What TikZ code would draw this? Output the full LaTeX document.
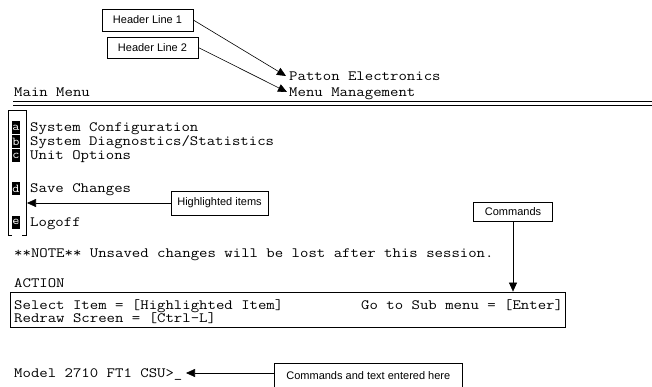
\documentclass[tikz,border=0pt]{standalone}
\usepackage{fontspec}
\setmainfont{Liberation Sans}
\newfontfamily\termfont{Latin Modern Mono}[FakeStretch=1.15]
\usetikzlibrary{arrows.meta}
\begin{document}
\begin{tikzpicture}[x=1pt,y=-1pt,
  term/.style={font=\termfont\fontsize{14.2}{14}\selectfont, inner sep=0pt, anchor=base west,
               text height=7pt, text depth=2pt},
  callout/.style={draw, line width=0.6pt, font=\fontsize{11}{11}\selectfont, inner sep=0pt, align=center},
  keyletter/.style={fill=black, text=white, font=\termfont\fontsize{12}{12}\selectfont, inner sep=0pt,
                    minimum width=8pt, minimum height=13pt},
  pointer/.style={line width=0.6pt, -{Triangle[length=9pt,width=8pt]}}]
\useasboundingbox (0,0) rectangle (652,387);

% header lines
\node[term] (hdr1) at (289,81) {Patton Electronics};
\node[term] (hdr2) at (289,97) {Menu Management};
\node[term] (main) at (14,97) {Main Menu};
\draw[line width=0.9pt] (13,101.5) -- (652,101.5);
\draw[line width=0.9pt] (13,105) -- (652,105);

% header callouts
\node[callout, minimum width=91pt, minimum height=22pt] (cH1) at (147.5,20) {Header Line 1};
\node[callout, minimum width=91pt, minimum height=21pt] (cH2) at (152.5,47.5) {Header Line 2};
\coordinate (tipH1) at (286,76);
\coordinate (tipH2) at (287,92);
\draw[pointer] (cH1.east) -- (tipH1);
\draw[pointer] (cH2.east) -- (tipH2);

% menu items with highlighted keys
\node[keyletter] (ka) at (16,128) {a};
\node[keyletter] (kb) at (16,142) {b};
\node[keyletter] (kc) at (16,156) {c};
\node[keyletter] (kd) at (16,189) {d};
\node[keyletter] (ke) at (16,222) {e};
\node[term] (ia) at (30,132) {System Configuration};
\node[term] (ib) at (30,146) {System Diagnostics/Statistics};
\node[term] (ic) at (30,160) {Unit Options};
\node[term] (id) at (30,193) {Save Changes};
\node[term] (ie) at (30,226) {Logoff};

% bracket round the key letters
\draw[line width=0.6pt] (12,235) -| (8,110) -| (26,235) -- (22,235);

% highlighted items callout
\node[callout, minimum width=97pt, minimum height=24pt] (cHi) at (219.5,203) {Highlighted items};
\coordinate (tipHi) at (27,203);
\draw[pointer] (cHi.west) -- (tipHi);

% note and action area
\node[term] (note) at (14,257) {**NOTE** Unsaved changes will be lost after this session.};
\node[term] (act) at (14,287) {ACTION};
\node[draw, line width=0.8pt, minimum width=555pt, minimum height=35pt, inner sep=0pt] (actbox) at (287.5,309.5) {};
\node[term] (sel) at (14,309) {Select Item = [Highlighted Item]};
\node[term] (sub) at (361,309) {Go to Sub menu = [Enter]};
\node[term] (rdr) at (14,322) {Redraw Screen = [Ctrl-L]};

% commands callout
\node[callout, minimum width=79pt, minimum height=19pt] (cCmd) at (513,211.5) {Commands};
\draw[pointer] (cCmd.south) -- (cCmd.south |- actbox.north);

% prompt
\node[term] (prompt) at (14,377) {Model 2710 FT1 CSU>\_};
\node[callout, minimum width=188pt, minimum height=30pt, anchor=north west] (cIn) at (274,363) {\raisebox{6pt}{Commands and text entered here}};
\coordinate (tipIn) at (186,373);
\draw[pointer] (cIn.west |- tipIn) -- (tipIn);
\end{tikzpicture}
\end{document}
